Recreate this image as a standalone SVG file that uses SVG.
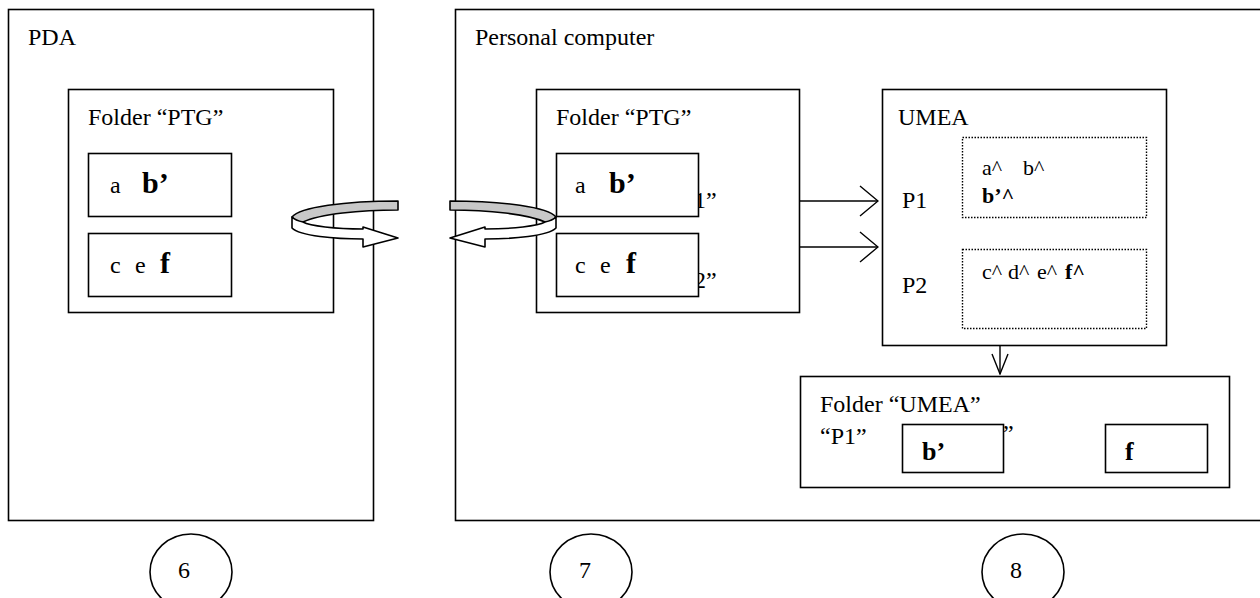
<svg xmlns="http://www.w3.org/2000/svg" width="1260" height="598" viewBox="0 0 1260 598">
<style>
.box{fill:#fff;stroke:#000;stroke-width:1.6}
.dot{fill:none;stroke:#000;stroke-width:1.4;stroke-dasharray:1.5 1.5}
.t{font-family:"Liberation Serif","Times New Roman",serif;font-size:24px;fill:#000}
.s{font-size:22px}
.b{font-weight:bold}
.big{font-size:30px}
.mid{font-size:26px}
.conn{stroke:#000;stroke-width:1.4;fill:none}
.band{stroke:#000;stroke-width:1.6;stroke-linejoin:round}
.circ{fill:none;stroke:#000;stroke-width:1.6}
</style>
<defs>
<marker id="ah" markerUnits="userSpaceOnUse" viewBox="-1 -1 20 32" refX="18" refY="15" markerWidth="20" markerHeight="32" orient="auto">
<path d="M0,0 L18,15 L0,30" fill="none" stroke="#000" stroke-width="1.4"/>
</marker>
<marker id="ahd" markerUnits="userSpaceOnUse" viewBox="-1 -1 22 18" refX="20" refY="8" markerWidth="22" markerHeight="18" orient="auto">
<path d="M0,0 L20,8 L0,16" fill="none" stroke="#000" stroke-width="1.4"/>
</marker>
<g id="swirl">
<path class="band" fill="#c8c8c8" d="M398,201 C345,201 300,207 292,217 C295,221 299,222 303,222 C320,214 360,210 398,210 Z"/>
<path class="band" fill="#fff" d="M292,217 L292,228 C300,236 335,239 363,239 L363,247 L398,238 L363,227 L363,229 C335,229 310,226 303,222 C298,221 294,219 292,217 Z"/>
</g>
</defs>

<g id="pda">
<rect class="box" x="8.5" y="9.5" width="365" height="511"/>
<text class="t" x="28" y="45">PDA</text>
</g>
<g id="pda-folder">
<rect class="box" x="68.5" y="89.5" width="265" height="223"/>
<text class="t" x="88" y="125">Folder “PTG”</text>
</g>
<g id="pda-file1">
<rect class="box" x="88.5" y="153.5" width="143" height="63"/>
<text class="t" x="110" y="193">a</text>
<text class="t b big" x="142" y="193">b’</text>
</g>
<g id="pda-file2">
<rect class="box" x="88.5" y="233.5" width="143" height="63"/>
<text class="t" x="110" y="273">c</text>
<text class="t" x="135" y="273">e</text>
<text class="t b big" x="160" y="273">f</text>
</g>

<g id="pc">
<rect class="box" x="455.5" y="9.5" width="820" height="511"/>
<text class="t" x="475" y="45">Personal computer</text>
</g>
<g id="pc-folder">
<rect class="box" x="536.5" y="89.5" width="263" height="223"/>
<text class="t" x="556" y="125">Folder “PTG”</text>
</g>
<g id="pc-file1">
<text class="t" x="694" y="208">1”</text>
<rect class="box" x="556.5" y="153.5" width="142" height="63"/>
<text class="t" x="575" y="193">a</text>
<text class="t b big" x="609" y="193">b’</text>
</g>
<g id="pc-file2">
<text class="t" x="694" y="288">2”</text>
<rect class="box" x="556.5" y="233.5" width="142" height="63"/>
<text class="t" x="575" y="273">c</text>
<text class="t" x="600" y="273">e</text>
<text class="t b big" x="626" y="273">f</text>
</g>

<g id="umea">
<rect class="box" x="882.5" y="89.5" width="284" height="256"/>
<text class="t" x="898" y="125">UMEA</text>
<text class="t" x="902" y="208">P1</text>
<text class="t" x="902" y="293">P2</text>
</g>
<g id="umea-p1">
<rect class="dot" x="962.5" y="137.5" width="184" height="80"/>
<text class="t s" x="982" y="175">a^</text>
<text class="t s" x="1023" y="175">b^</text>
<text class="t s b" x="982" y="203">b’^</text>
</g>
<g id="umea-p2">
<rect class="dot" x="962.5" y="249.5" width="184" height="79"/>
<text class="t s" x="982" y="279">c^</text>
<text class="t s" x="1008" y="279">d^</text>
<text class="t s" x="1037" y="279">e^</text>
<text class="t s b" x="1065" y="279">f^</text>
</g>

<g id="folder-umea">
<rect class="box" x="800.5" y="376.5" width="429" height="111"/>
<text class="t" x="820" y="412">Folder “UMEA”</text>
<text class="t" x="820" y="444">“P1”</text>
<text class="t" x="1003" y="441">”</text>
</g>
<g id="umea-file-b">
<rect class="box" x="902.5" y="424.5" width="101" height="48"/>
<text class="t b mid" x="922" y="460">b’</text>
</g>
<g id="umea-file-f">
<rect class="box" x="1105.5" y="424.5" width="102" height="48"/>
<text class="t b mid" x="1125" y="460">f</text>
</g>

<g id="connectors">
<use href="#swirl"/>
<use href="#swirl" transform="translate(848,0) scale(-1,1)"/>
<line class="conn" x1="800" y1="201" x2="878" y2="201" marker-end="url(#ah)"/>
<line class="conn" x1="800" y1="247" x2="878" y2="247" marker-end="url(#ah)"/>
<line class="conn" x1="1000" y1="346" x2="1000" y2="374" marker-end="url(#ahd)"/>
</g>

<g id="step6">
<ellipse class="circ" cx="191" cy="572" rx="41" ry="38"/>
<text class="t" x="184" y="578" text-anchor="middle">6</text>
</g>
<g id="step7">
<ellipse class="circ" cx="591" cy="572" rx="41" ry="38"/>
<text class="t" x="585" y="578" text-anchor="middle">7</text>
</g>
<g id="step8">
<ellipse class="circ" cx="1023" cy="572" rx="41" ry="38"/>
<text class="t" x="1016" y="578" text-anchor="middle">8</text>
</g>
</svg>
